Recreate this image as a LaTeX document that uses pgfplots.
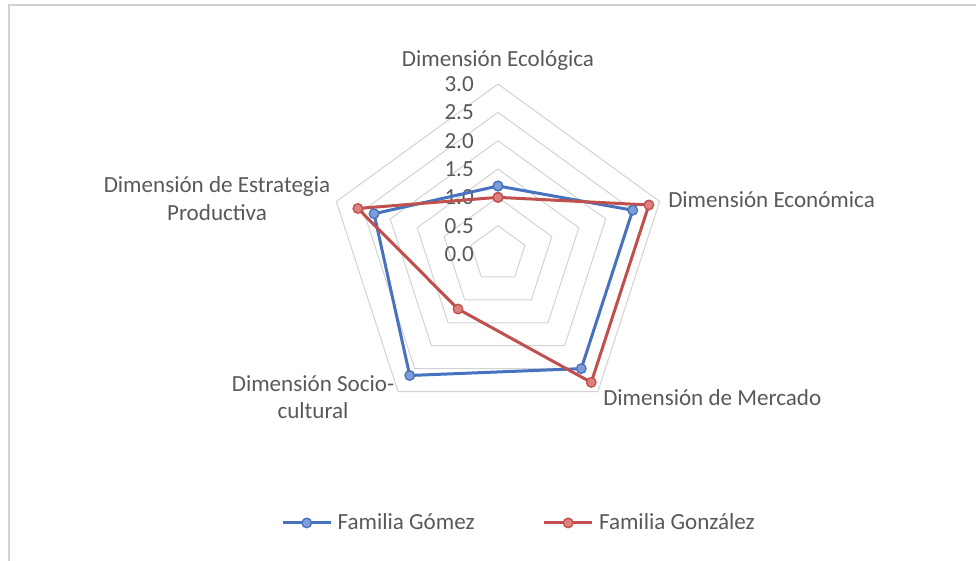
\documentclass[border=0pt]{standalone}
\usepackage{fontspec}
\setmainfont{Carlito}
\usepackage{pgfplots}
\pgfplotsset{compat=1.18}
\usepgfplotslibrary{polar}
\definecolor{gblue}{RGB}{70,114,190}
\definecolor{gbluefill}{RGB}{125,158,214}
\definecolor{gred}{RGB}{192,80,77}
\definecolor{gredfill}{RGB}{222,128,125}
\definecolor{gridc}{RGB}{210,210,210}
\definecolor{txt}{RGB}{89,89,89}
\begin{document}
\begin{tikzpicture}[font=\fontsize{17.3}{20.5}\selectfont]
\useasboundingbox (-373.5pt,-230.25pt) rectangle (358.5pt,190.5pt);
\draw[gridc, line width=1.2pt] (-366.75pt,-240pt) -- (-366.75pt,186.75pt) -- (370pt,186.75pt);
\begin{polaraxis}[
  at={(0,0)}, anchor=origin,
  scale only axis, width=255pt, height=255pt,
  hide axis, clip=false,
  xmin=0, xmax=360, ymin=0, ymax=3,
  legend columns=2,
  legend style={draw=none, fill=none, at={(0.563,-0.291)}, anchor=center, text=txt,
    font=\fontsize{17.3}{20.5}\selectfont,
    /tikz/every odd column/.append style={column sep=2pt},
    /tikz/every even column/.append style={column sep=49pt}},
  legend image code/.code={\draw[mark repeat=2,mark phase=2,#1] plot coordinates {(0pt,0pt)(18pt,0pt)(36pt,0pt)};},
]
\addplot[gridc, line width=0.75pt, forget plot] coordinates {(90,0.5)(18,0.5)(-54,0.5)(-126,0.5)(162,0.5)(90,0.5)};
\addplot[gridc, line width=0.75pt, forget plot] coordinates {(90,1.0)(18,1.0)(-54,1.0)(-126,1.0)(162,1.0)(90,1.0)};
\addplot[gridc, line width=0.75pt, forget plot] coordinates {(90,1.5)(18,1.5)(-54,1.5)(-126,1.5)(162,1.5)(90,1.5)};
\addplot[gridc, line width=0.75pt, forget plot] coordinates {(90,2.0)(18,2.0)(-54,2.0)(-126,2.0)(162,2.0)(90,2.0)};
\addplot[gridc, line width=0.75pt, forget plot] coordinates {(90,2.5)(18,2.5)(-54,2.5)(-126,2.5)(162,2.5)(90,2.5)};
\addplot[gridc, line width=0.75pt, forget plot] coordinates {(90,3.0)(18,3.0)(-54,3.0)(-126,3.0)(162,3.0)(90,3.0)};
\foreach \r/\lab in {0/0.0,0.5/0.5,1/1.0,1.5/1.5,2/2.0,2.5/2.5,3/3.0}{
  \edef\tmp{\noexpand\node[anchor=east, inner sep=0pt, text=txt, xshift=-18pt] at (axis cs:90,\r) {\lab};}
  \tmp
}
\addplot[gblue, line width=2.25pt, line join=round, mark=*, mark size=3.6pt,
  mark options={fill=gbluefill, draw=gblue, line width=1pt}]
  coordinates {(90,1.2)(18,2.5)(-54,2.5)(-126,2.65)(162,2.3)(90,1.2)};
\addplot[gred, line width=2.25pt, line join=round, mark=*, mark size=3.6pt,
  mark options={fill=gredfill, draw=gred, line width=1pt}]
  coordinates {(90,1.0)(18,2.8)(-54,2.8)(-126,1.2)(162,2.6)(90,1.0)};
\legend{Familia Gómez, Familia González}
\end{polaraxis}
\node[anchor=base, text=txt, inner sep=0pt] at (0,140.25pt) {Dimensión Ecológica};
\node[anchor=west, text=txt, inner sep=0pt] at (127.5pt,40.5pt) {Dimensión Económica};
\node[anchor=west, text=txt, inner sep=0pt] at (78.75pt,-108pt) {Dimensión de Mercado};
\node[align=center, text=txt, inner sep=0pt] at (-138.75pt,-107.6pt) {Dimensión Socio-\\cultural};
\node[align=center, text=txt, inner sep=0pt] at (-210.75pt,41.6pt) {Dimensión de Estrategia\\Productiva};
\end{tikzpicture}
\end{document}
